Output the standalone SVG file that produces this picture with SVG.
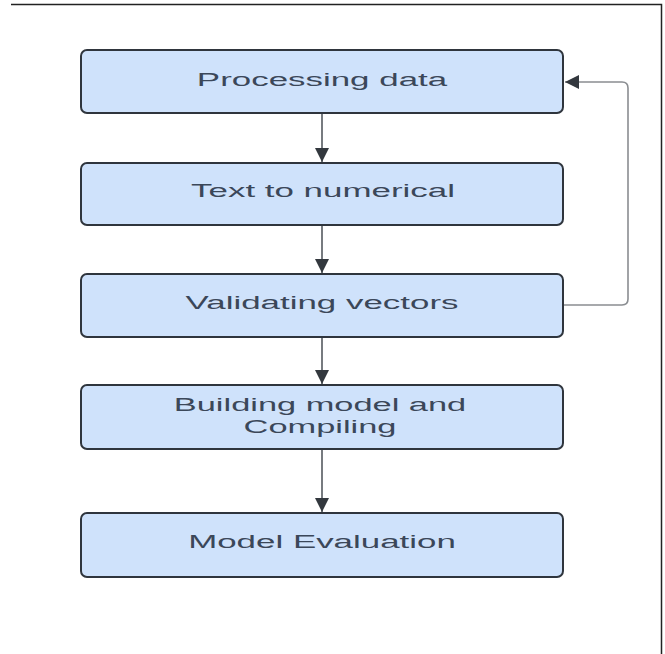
<svg xmlns="http://www.w3.org/2000/svg" width="665" height="654" viewBox="0 0 665 654">
<style>
.box{fill:#cfe2fb;stroke:#2f353d;stroke-width:2}
.lbl{font-family:"Liberation Sans",Arial,sans-serif;font-size:18px;fill:#3b4759;text-anchor:middle}
.edge{fill:none;stroke:#555a60;stroke-width:1.6}
.fb{fill:none;stroke:#8a8d91;stroke-width:1.6}
</style>
<defs>
<marker id="ah" viewBox="0 0 14 14" refX="14" refY="7" markerWidth="14" markerHeight="14" markerUnits="userSpaceOnUse" orient="auto">
<path d="M0,0 L14,7 L0,14 Z" fill="#33383e"/>
</marker>
</defs>
<rect width="665" height="654" fill="#ffffff"/>
<path d="M11,4.5 H661.5 V654" fill="none" stroke="#222" stroke-width="1.5"/>
<g id="connectors">
<line class="edge" x1="322" y1="114" x2="322" y2="162" marker-end="url(#ah)"/>
<line class="edge" x1="322" y1="226" x2="322" y2="273" marker-end="url(#ah)"/>
<line class="edge" x1="322" y1="338" x2="322" y2="384" marker-end="url(#ah)"/>
<line class="edge" x1="322" y1="450" x2="322" y2="512" marker-end="url(#ah)"/>
<path class="fb" d="M564,305 H622 Q628,305 628,299 V88 Q628,82 622,82 H565" marker-end="url(#ah)"/>
</g>
<g id="n1">
<rect class="box" x="81" y="50" width="482" height="63" rx="6"/>
<text class="lbl" transform="translate(322,86) scale(1.94,1)">Processing data</text>
</g>
<g id="n2">
<rect class="box" x="81" y="163" width="482" height="62" rx="6"/>
<text class="lbl" transform="translate(323,197) scale(1.94,1)">Text to numerical</text>
</g>
<g id="n3">
<rect class="box" x="81" y="274" width="482" height="63" rx="6"/>
<text class="lbl" transform="translate(322,309) scale(1.94,1)">Validating vectors</text>
</g>
<g id="n4">
<rect class="box" x="81" y="385" width="482" height="64" rx="6"/>
<text class="lbl" transform="translate(320,411) scale(1.91,1)">Building model and</text>
<text class="lbl" transform="translate(320,433) scale(1.91,1)">Compiling</text>
</g>
<g id="n5">
<rect class="box" x="81" y="513" width="482" height="64" rx="6"/>
<text class="lbl" transform="translate(322,548) scale(1.94,1)">Model Evaluation</text>
</g>
</svg>
